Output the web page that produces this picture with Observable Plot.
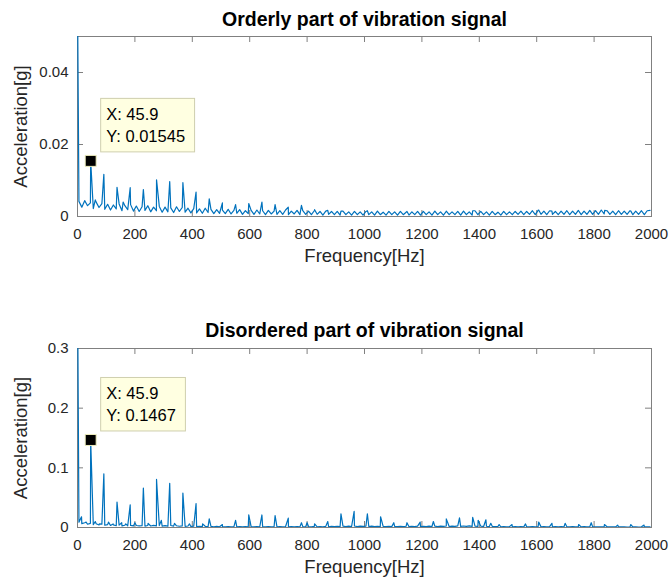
<!DOCTYPE html>
<html><head><meta charset="utf-8">
<script src="https://cdn.jsdelivr.net/npm/d3@7"></script>
<script src="https://cdn.jsdelivr.net/npm/@observablehq/plot@0.6"></script>
<style>
body{margin:0;background:#fff;}
#wrap{position:relative;width:671px;height:580px;overflow:hidden;}
#p1,#p2{position:absolute;left:0;}
#p1{top:0;} #p2{top:300px;}
</style></head><body><div id="wrap"><div id="p1"></div><div id="p2"></div></div>
<script>
// ---------- data ----------
const titles = ["Orderly part of vibration signal", "Disordered part of vibration signal"];
const xLabel = "Frequency[Hz]";
const yLabel = "Acceleration[g]";
const xTicks = [0, 200, 400, 600, 800, 1000, 1200, 1400, 1600, 1800, 2000];
const yTicksTop = [0, 0.02, 0.04];
const yTicksBottom = [0, 0.1, 0.2, 0.3];
const yMaxTop = 0.05;
const yMaxBottom = 0.3;
const floorFreq = d3.range(5, 2000, 10); // spectrum bin centres (Hz)

// DC component at 0 Hz (off the top of both axes)
const dcTop = 0.062;
const dcBottom = 0.42;

// noise floor, orderly part
const topFloor = [
0.0042,0.0026,0.0044,0.0030,0.0038,0.0022,0.0040,0.0025,0.0036,0.0020,
0.0034,0.0018,0.0032,0.0021,0.0035,0.0016,0.0030,0.0019,0.0033,0.0015,
0.0029,0.0014,0.0027,0.0017,0.0030,0.0013,0.0026,0.0016,0.0028,0.0012,
0.0026,0.0013,0.0024,0.0011,0.0027,0.0014,0.0025,0.0012,0.0023,0.0010,
0.0022,0.0010,0.0021,0.0009,0.0023,0.0011,0.0020,0.0008,0.0019,0.0009,
0.0018,0.0008,0.0020,0.0007,0.0017,0.0009,0.0019,0.0006,0.0016,0.0008,
0.0017,0.0006,0.0018,0.0007,0.0016,0.0005,0.0017,0.0007,0.0015,0.0006,
0.0016,0.0006,0.0018,0.0005,0.0015,0.0007,0.0017,0.0005,0.0016,0.0006,
0.0015,0.0005,0.0016,0.0006,0.0014,0.0004,0.0015,0.0006,0.0014,0.0005,
0.0014,0.0004,0.0015,0.0005,0.0013,0.0004,0.0014,0.0005,0.0013,0.0004,
0.0014,0.0005,0.0013,0.0004,0.0015,0.0005,0.0012,0.0004,0.0014,0.0005,
0.0013,0.0004,0.0014,0.0005,0.0012,0.0004,0.0013,0.0005,0.0014,0.0004,
0.0014,0.0005,0.0013,0.0004,0.0015,0.0005,0.0013,0.0004,0.0014,0.0005,
0.0013,0.0005,0.0014,0.0004,0.0015,0.0005,0.0013,0.0004,0.0016,0.0005,
0.0014,0.0005,0.0013,0.0004,0.0014,0.0005,0.0012,0.0004,0.0014,0.0005,
0.0013,0.0005,0.0014,0.0006,0.0015,0.0005,0.0014,0.0006,0.0016,0.0005,
0.0017,0.0006,0.0015,0.0005,0.0016,0.0006,0.0014,0.0005,0.0015,0.0006,
0.0016,0.0005,0.0015,0.0006,0.0017,0.0005,0.0015,0.0006,0.0017,0.0006,
0.0016,0.0006,0.0018,0.0007,0.0016,0.0006,0.0015,0.0005,0.0016,0.0006,
0.0015,0.0006,0.0016,0.0005,0.0015,0.0006,0.0016,0.0005,0.0016,0.0017
];
// harmonic peaks, orderly part
const topPeakFreq = [45.9, 62, 91.8, 137.7, 159, 183.6, 229.5, 275.4, 321.3, 367.2, 413.1, 459, 504.9, 550.8, 596.7, 642.6, 688.5, 734.4, 780.3, 826.2, 872, 918, 1010, 1148, 1285, 1377, 1607, 1653, 1746, 1837, 1928];
const topPeakAmp  = [0.01545, 0.0046, 0.0117, 0.0081, 0.0040, 0.0080, 0.0075, 0.0102, 0.0097, 0.0094, 0.0068, 0.0049, 0.0038, 0.0033, 0.0036, 0.0040, 0.0033, 0.0026, 0.0031, 0.0019, 0.0017, 0.0015, 0.0016, 0.0014, 0.0015, 0.0016, 0.0018, 0.0015, 0.0016, 0.0017, 0.0015];

// noise floor, disordered part
const bottomFloor = [
0.0090,0.0065,0.0080,0.0055,0.0070,0.0048,0.0062,0.0042,0.0055,0.0038,
0.0048,0.0034,0.0044,0.0030,0.0040,0.0028,0.0038,0.0029,0.0035,0.0026,
0.0034,0.0027,0.0031,0.0024,0.0033,0.0025,0.0036,0.0027,0.0032,0.0024,
0.0030,0.0022,0.0033,0.0024,0.0029,0.0021,0.0027,0.0020,0.0025,0.0018,
0.0023,0.0017,0.0021,0.0016,0.0020,0.0014,0.0019,0.0013,0.0018,0.0012,
0.0017,0.0012,0.0016,0.0011,0.0015,0.0012,0.0016,0.0010,0.0015,0.0011,
0.0016,0.0011,0.0015,0.0012,0.0017,0.0010,0.0015,0.0011,0.0016,0.0012,
0.0015,0.0011,0.0016,0.0010,0.0014,0.0012,0.0017,0.0011,0.0015,0.0012,
0.0016,0.0012,0.0018,0.0011,0.0017,0.0013,0.0019,0.0012,0.0018,0.0014,
0.0021,0.0015,0.0023,0.0016,0.0022,0.0017,0.0025,0.0016,0.0023,0.0018,
0.0024,0.0017,0.0022,0.0016,0.0021,0.0015,0.0020,0.0014,0.0019,0.0015,
0.0019,0.0014,0.0020,0.0015,0.0021,0.0014,0.0019,0.0016,0.0022,0.0015,
0.0021,0.0016,0.0023,0.0017,0.0022,0.0016,0.0024,0.0018,0.0025,0.0017,
0.0024,0.0018,0.0026,0.0019,0.0025,0.0018,0.0027,0.0019,0.0024,0.0018,
0.0023,0.0017,0.0021,0.0015,0.0019,0.0014,0.0017,0.0012,0.0016,0.0011,
0.0015,0.0011,0.0014,0.0010,0.0015,0.0011,0.0014,0.0010,0.0015,0.0011,
0.0016,0.0011,0.0015,0.0010,0.0014,0.0011,0.0015,0.0010,0.0014,0.0011,
0.0013,0.0010,0.0014,0.0009,0.0013,0.0010,0.0014,0.0009,0.0013,0.0010,
0.0012,0.0009,0.0013,0.0009,0.0012,0.0010,0.0013,0.0009,0.0012,0.0009,
0.0012,0.0008,0.0011,0.0009,0.0012,0.0008,0.0011,0.0009,0.0012,0.0010
];
// peaks, disordered part
const bottomPeakFreq = [14, 30, 45.9, 62, 76, 91.8, 108, 124, 137.7, 154, 168, 183.6, 200, 229.5, 246, 275.4, 292, 321.3, 338, 367.2, 390, 413.1, 436, 459, 504.9, 550.8, 596.7, 642.6, 688.5, 734.4, 780.3, 800, 826.2, 872, 918, 963.9, 1010, 1056, 1102, 1148, 1194, 1240, 1285, 1331, 1377, 1396, 1423, 1440, 1469, 1514, 1561, 1607, 1653, 1699, 1746, 1790, 1836, 1882, 1928, 1974];
const bottomPeakAmp  = [0.018, 0.009, 0.1467, 0.010, 0.006, 0.090, 0.009, 0.006, 0.0425, 0.008, 0.006, 0.038, 0.008, 0.066, 0.007, 0.0805, 0.012, 0.074, 0.007, 0.0576, 0.006, 0.040, 0.006, 0.0146, 0.005, 0.012, 0.0213, 0.021, 0.020, 0.0157, 0.008, 0.008, 0.006, 0.010, 0.023, 0.027, 0.023, 0.018, 0.008, 0.008, 0.009, 0.010, 0.0145, 0.016, 0.017, 0.012, 0.013, 0.007, 0.005, 0.005, 0.006, 0.009, 0.007, 0.007, 0.005, 0.008, 0.005, 0.004, 0.005, 0.004];

// data tips
const tipX = [45.9, 45.9];
const tipY = [0.01545, 0.1467];

// ---------- drawing ----------
const FONT = '"Liberation Sans", Arial, Helvetica, sans-serif';
const lineColor = "#0072BD";
const axisColor = "#808080";
const textColor = "#262626";
const tipFont = 16.5;
const measure = document.createElement("canvas").getContext("2d");
measure.font = `${tipFont}px ${FONT}`;

function spectrum(dc, floor, pf, pa) {
  const pts = [{f: 0, a: dc}];
  floor.forEach((a, i) => pts.push({f: floorFreq[i], a}));
  pf.forEach((f, j) => pts.push({f, a: pa[j]}));
  pts.sort((p, q) => p.f - q.f);
  return pts;
}

function dataTip(tx, ty) {
  return (index, scales) => {
    const px = scales.x(tx), py = scales.y(ty);
    const lines = [`X: ${tx}`, `Y: ${ty}`];
    const w = Math.max(...lines.map(t => measure.measureText(t).width)) + 15;
    const h = 53.5;
    const left = px + 10.5, top = py - 8.5 - h;
    const g = d3.create("svg:g");
    g.append("rect").attr("x", left).attr("y", top).attr("width", w).attr("height", h)
      .attr("fill", "#ffffe1").attr("stroke", "#cfcfae").attr("stroke-width", 1);
    lines.forEach((t, i) => g.append("text")
      .attr("x", left + 5.5).attr("y", top + 21.8 + 22 * i)
      .attr("text-anchor", "start")
      .attr("font-size", tipFont).attr("font-family", FONT).attr("fill", "#000")
      .text(t));
    return g.node();
  };
}

function panel({title, yMax, yTicks, data, tx, ty, height, marginTop, marginBottom, titleDy}) {
  const marginLeft = 77, marginRight = 20, width = 671;
  const H = height - marginTop - marginBottom;
  const W = width - marginLeft - marginRight;
  return Plot.plot({
    width, height, marginTop, marginBottom, marginLeft, marginRight,
    style: {fontFamily: FONT, fontSize: "15px", color: textColor, background: "white", overflow: "visible"},
    x: {domain: [0, 2000]},
    y: {domain: [0, yMax]},
    marks: [
      Plot.frame({stroke: axisColor}),
      Plot.tickX(xTicks, {x: d => d, insetTop: H - 6, stroke: axisColor}),
      Plot.tickX(xTicks, {x: d => d, insetBottom: H - 6, stroke: axisColor}),
      Plot.tickY(yTicks, {y: d => d, insetRight: W - 6, stroke: axisColor}),
      Plot.tickY(yTicks, {y: d => d, insetLeft: W - 6, stroke: axisColor}),
      Plot.axisX(xTicks, {anchor: "bottom", tickSize: 0, tickPadding: 12, tickFormat: d => String(d), label: null, fill: textColor}),
      Plot.axisY(yTicks, {anchor: "left", tickSize: 0, tickPadding: 9, tickFormat: d => String(d), label: null, fill: textColor}),
      Plot.line(data, {x: "f", y: "a", stroke: lineColor, strokeWidth: 1.2, clip: true}),
      Plot.text([title], {text: d => d, frameAnchor: "top", lineAnchor: "middle", textAnchor: "middle", dy: titleDy, fontSize: 19.5, fontWeight: "bold", fill: "#000"}),
      Plot.text([xLabel], {text: d => d, frameAnchor: "bottom", lineAnchor: "middle", textAnchor: "middle", dy: 40, fontSize: 18.5, fill: textColor}),
      Plot.text([yLabel], {text: d => d, frameAnchor: "left", lineAnchor: "middle", textAnchor: "middle", rotate: -90, dx: -56, fontSize: 18.5, fill: textColor}),
      dataTip(tx, ty),
      Plot.dot([{x: tx, y: ty}], {x: "x", y: "y", symbol: "square", r: 6.2, fill: "#000", stroke: "#f0f0c0", strokeWidth: 1})
    ]
  });
}

document.getElementById("p1").appendChild(panel({
  title: titles[0], yMax: yMaxTop, yTicks: yTicksTop,
  data: spectrum(dcTop, topFloor, topPeakFreq, topPeakAmp),
  tx: tipX[0], ty: tipY[0], height: 300, marginTop: 36, marginBottom: 84, titleDy: -17.2
}));
document.getElementById("p2").appendChild(panel({
  title: titles[1], yMax: yMaxBottom, yTicks: yTicksBottom,
  data: spectrum(dcBottom, bottomFloor, bottomPeakFreq, bottomPeakAmp),
  tx: tipX[1], ty: tipY[1], height: 280, marginTop: 48, marginBottom: 53, titleDy: -18.2
}));
</script></body></html>
